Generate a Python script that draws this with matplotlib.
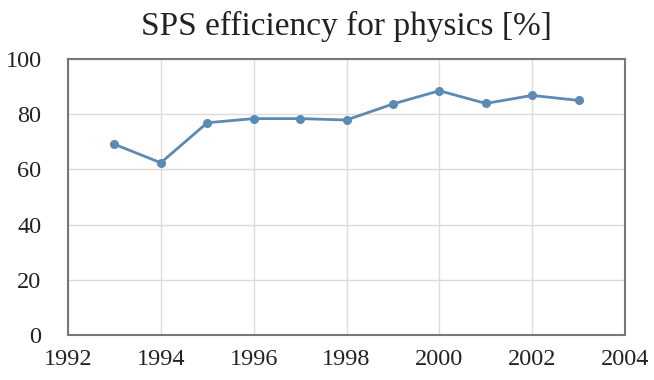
import numpy as np
import matplotlib.pyplot as plt

years = [1993, 1994, 1995, 1996, 1997, 1998, 1999, 2000, 2001, 2002, 2003]
efficiency = [69.1, 62.4, 76.9, 78.4, 78.4, 77.9, 83.7, 88.5, 83.9, 86.8, 85.0]
x_ticks = [1992, 1994, 1996, 1998, 2000, 2002, 2004]
y_ticks = [0, 20, 40, 60, 80, 100]

plt.rcParams['font.family'] = ['Liberation Serif', 'DejaVu Serif']

fig = plt.figure(figsize=(6.54, 3.8), dpi=100)
ax = fig.add_axes([68/654, 1 - 335/380, (625-68)/654, (335-59)/380])

ax.plot(years, efficiency, color='#5b8ab5', linewidth=2, marker='o', markersize=5.5,
        markerfacecolor='#5b8ab5', markeredgecolor='#5b8ab5')

ax.set_xlim(1992, 2004)
ax.set_ylim(0, 100)
ax.set_xticks(x_ticks)
ax.set_yticks(y_ticks)
ax.grid(True, color='#dcdcdc', linewidth=1)
ax.set_axisbelow(True)
ax.tick_params(length=0, labelsize=17.5, colors='#222222')
ax.tick_params(axis='y', pad=19)
ax.tick_params(axis='x', pad=10)
for s in ax.spines.values():
    s.set_color('#777777')
    s.set_linewidth(1.5)

ax.set_title('SPS efficiency for physics [%]', fontsize=24, color='#222222', pad=17)

fig.savefig('out.png', dpi=100)
